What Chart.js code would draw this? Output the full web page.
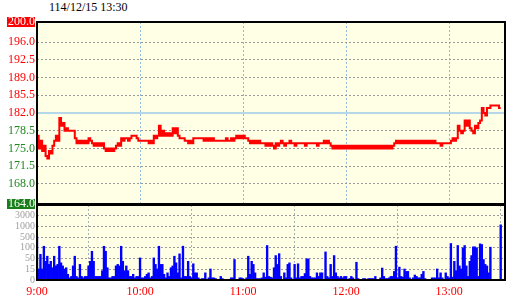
<!DOCTYPE html>
<html><head><meta charset="utf-8">
<script src="https://cdn.jsdelivr.net/npm/chart.js@4"></script>
<style>
html,body{margin:0;padding:0;background:#fff;}
#wrap{position:relative;width:520px;height:300px;overflow:hidden;}
#title{position:absolute;left:49px;top:0px;font:12px "Liberation Serif",serif;color:#000;white-space:nowrap;}
#c1{position:absolute;left:0;top:0;z-index:2;}
#c2{position:absolute;left:0;top:198px;z-index:1;}
</style></head><body>
<div id="wrap"><div id="title">114/12/15 13:30</div>
<canvas id="c1" width="520" height="215"></canvas>
<canvas id="c2" width="520" height="102"></canvas></div>
<script>
// ---- data ----
const prevClose = 182.0;
const limitUp = 200.0;
const limitDown = 164.0;
const priceTicks = [164.0,168.0,171.5,175.0,178.5,182.0,185.5,189.0,192.5,196.0,200.0];
const hourTicks = [0,60,120,180,240];           // minutes after 9:00
const hourLabels = ['9:00','10:00','11:00','12:00','13:00'];
const volLevels = [0,15,50,100,500,1000,3000];  // volume axis break points
const volTickLabels = ['0','15','50','100','500','1000','3000'];
const axisEndMinute = 272.5;

// price per minute, 9:00 (index 0) .. 13:30 (index 270)
const price = [
177.5,175.0,176.5,174.5,175.5,173.5,173.0,174.5,174.0,175.5,
176.5,177.5,176.5,181.0,179.5,180.0,178.5,179.0,178.5,178.5,
178.5,178.5,177.0,176.0,176.5,176.0,176.5,176.0,176.5,176.0,
177.0,176.5,176.0,175.5,176.0,175.5,176.0,175.5,176.0,175.0,
174.5,175.0,174.5,175.0,174.5,175.0,175.5,176.0,175.5,177.0,
176.5,177.0,177.0,176.5,177.0,177.5,177.5,177.5,177.0,176.5,
176.5,176.5,176.5,176.5,176.5,176.0,176.5,176.0,177.5,177.0,
177.5,179.5,177.5,178.5,177.5,178.0,177.5,178.0,177.5,179.0,
178.0,179.0,177.5,177.0,177.0,177.0,176.5,176.5,176.0,176.5,
176.0,177.0,177.0,177.0,177.0,177.0,177.0,176.5,177.0,176.5,
177.0,176.5,177.0,176.5,176.5,176.5,176.5,176.5,176.5,176.5,
177.0,176.5,176.5,177.0,176.5,177.0,177.5,177.0,177.5,177.0,
177.5,177.0,177.0,176.5,176.0,176.5,176.0,176.5,176.0,176.5,
176.0,176.0,176.0,175.5,176.0,175.5,176.0,175.5,175.0,176.0,
175.5,176.0,176.5,176.0,175.5,176.0,176.0,176.5,176.0,176.0,
175.5,176.0,176.0,176.0,176.0,176.0,175.5,176.0,176.0,176.0,
176.0,176.0,176.0,175.5,176.0,176.0,176.0,176.5,176.0,176.5,
176.0,175.5,175.0,175.5,175.0,175.5,175.0,175.5,175.0,175.5,
175.0,175.5,175.0,175.5,175.0,175.5,175.0,175.5,175.0,175.5,
175.0,175.5,175.0,175.5,175.0,175.5,175.0,175.5,175.0,175.5,
175.0,175.5,175.0,175.5,175.0,175.5,175.0,175.5,176.0,176.5,
176.0,176.5,176.0,176.5,176.0,176.5,176.0,176.5,176.0,176.5,
176.0,176.5,176.0,176.5,176.0,176.5,176.0,176.5,176.0,176.5,
176.0,176.5,176.0,176.0,176.0,175.5,176.0,176.0,176.0,176.0,
176.0,176.5,177.0,176.5,177.0,179.5,178.5,178.0,178.5,180.5,
179.5,180.5,179.0,178.5,178.0,179.5,179.0,180.0,180.5,183.0,
182.0,181.5,183.0,183.0,183.5,183.5,183.5,183.5,183.5,183.0,
183.0
];

// volume (lots) per minute, same indexing
const volume = [
520,16,70,16,160,41,61,31,41,20,
61,26,31,160,36,26,16,20,8,3,
5,26,61,5,3,31,5,3,5,5,
26,41,84,41,5,5,5,5,13,160,
84,20,3,3,5,5,26,31,26,160,
41,13,26,13,5,5,8,3,5,5,
53,3,3,5,8,10,3,5,53,31,
16,160,31,31,8,3,10,5,20,26,
61,36,10,72,3,162,5,5,41,5,
3,33,10,10,3,0,2,2,10,0,
3,16,3,3,2,0,0,5,2,0,
0,0,0,3,3,47,0,0,3,3,
2,0,3,61,8,41,31,10,2,2,
2,3,10,4,188,5,4,3,20,64,
31,73,5,0,10,3,31,36,3,0,
31,3,33,3,5,5,9,49,49,5,
3,3,3,10,5,10,10,0,81,5,
3,31,5,64,10,5,3,5,3,5,
5,0,2,5,3,0,38,2,0,0,
2,2,0,2,2,2,2,5,0,0,
3,19,5,2,2,3,5,5,12,162,
3,22,5,4,16,12,12,3,0,3,
7,5,3,3,8,12,2,0,0,0,
3,3,3,16,3,10,3,0,10,5,
3,263,4,41,13,188,26,16,100,188,
26,5,41,64,138,138,100,5,250,225,
47,31,26,10,125,0,0,0,0,0,
1300
];

// ---- helpers ----
function volToPos(v){
  const L = volLevels;
  for (let i = 0; i < L.length - 1; i++) {
    if (v <= L[i+1]) return i + (v - L[i]) / (L[i+1] - L[i]);
  }
  const n = L.length - 1;
  return n - 1 + (v - L[n-1]) / (L[n] - L[n-1]);
}
const priceData = price.map((p, i) => ({x: i, y: p}));
const volData = volume.map((v, i) => ({x: i, y: volToPos(v)}));
const prevLine = [{x: 0, y: prevClose}, {x: axisEndMinute, y: prevClose}];

const FONT = '"Liberation Serif", serif';
const BG = '#ffffe6';
const panelFrame = {
  id: 'panelFrame',
  beforeDraw(chart){
    const {ctx, chartArea: a} = chart;
    ctx.save(); ctx.fillStyle = BG;
    ctx.fillRect(a.left, a.top, a.right - a.left, a.bottom - a.top);
    ctx.restore();
  },
  afterDraw(chart){
    const {ctx, chartArea: a} = chart;
    ctx.save(); ctx.strokeStyle = '#000'; ctx.lineWidth = 2;
    ctx.strokeRect(a.left, a.top, a.right - a.left, a.bottom - a.top);
    ctx.restore();
  }
};
const setHourTicks = s => { s.ticks = hourTicks.map(v => ({value: v})); };

new Chart(document.getElementById('c1'), {
  type: 'line',
  data: { datasets: [
    { data: prevLine, borderColor: '#9ccaea', borderWidth: 1.5, pointRadius: 0, order: 2 },
    { data: priceData, borderColor: '#ff0000', borderWidth: 2, pointRadius: 0, stepped: true, order: 1 }
  ]},
  options: {
    responsive: false, animation: false, maintainAspectRatio: false,
    layout: { padding: { top: 22, right: 15, bottom: 11, left: 0 } },
    plugins: { legend: { display: false }, tooltip: { enabled: false } },
    scales: {
      x: {
        type: 'linear', min: 0, max: axisEndMinute,
        afterBuildTicks: setHourTicks,
        afterFit: s => { s.height = 0; },
        ticks: { display: false },
        grid: { color: '#8fbadc', lineWidth: 1, drawTicks: false },
        border: { display: false, dash: [2, 2] }
      },
      y: {
        min: limitDown, max: limitUp,
        afterBuildTicks: s => { s.ticks = priceTicks.map(v => ({value: v})); },
        afterFit: s => { s.width = 37; },
        ticks: {
          padding: 2, autoSkip: false,
          font: { family: FONT, size: 12, lineHeight: 1 },
          callback: v => Number(v).toFixed(1),
          color: c => {
            const v = c.tick && c.tick.value;
            if (v === limitUp || v === limitDown) return '#ffffff';
            return v >= prevClose ? '#ff0000' : '#1f8a1f';
          },
          showLabelBackdrop: c => { const v = c.tick && c.tick.value; return v === limitUp || v === limitDown; },
          backdropColor: c => {
            const v = c.tick && c.tick.value;
            return v === limitUp ? '#ff0000' : (v === limitDown ? '#1a7f1a' : 'rgba(0,0,0,0)');
          },
          backdropPadding: { top: -1, bottom: -1, left: 1, right: 0 }
        },
        grid: {
          drawTicks: false, lineWidth: 1,
          color: c => {
            const v = c.tick && c.tick.value;
            return (v === prevClose || v === limitUp || v === limitDown) ? 'rgba(0,0,0,0)' : '#9a9a9a';
          }
        },
        border: { display: false, dash: [2, 2] }
      }
    }
  },
  plugins: [panelFrame]
});

new Chart(document.getElementById('c2'), {
  type: 'bar',
  data: { datasets: [
    { data: volData, backgroundColor: '#0000ff', barPercentage: 1, categoryPercentage: 1 }
  ]},
  options: {
    responsive: false, animation: false, maintainAspectRatio: false,
    layout: { padding: { top: 6, right: 15, bottom: 0, left: 0 } },
    plugins: { legend: { display: false }, tooltip: { enabled: false } },
    scales: {
      x: {
        type: 'linear', min: 0, max: axisEndMinute, offset: false,
        afterBuildTicks: setHourTicks,
        afterFit: s => { s.height = 20; },
        ticks: {
          padding: 5, color: '#ff0000', maxRotation: 0, autoSkip: false,
          font: { family: FONT, size: 12 },
          callback: v => hourLabels[hourTicks.indexOf(v)]
        },
        grid: { color: '#a6b4b4', lineWidth: 1, drawTicks: false },
        border: { display: false, dash: [2, 2] }
      },
      y: {
        min: 0, max: volLevels.length,
        afterBuildTicks: s => { s.ticks = volLevels.map((v, i) => ({value: i})); },
        afterFit: s => { s.width = 37; },
        ticks: {
          padding: 2, color: '#a0a0a0', autoSkip: false,
          font: { family: FONT, size: 10, lineHeight: 1 },
          callback: v => volTickLabels[v]
        },
        grid: {
          drawTicks: false, lineWidth: 1,
          color: c => (c.tick && c.tick.value === 0) ? 'rgba(0,0,0,0)' : '#9a9a9a'
        },
        border: { display: false, dash: [2, 2] }
      }
    }
  },
  plugins: [panelFrame]
});
</script>
</body></html>
